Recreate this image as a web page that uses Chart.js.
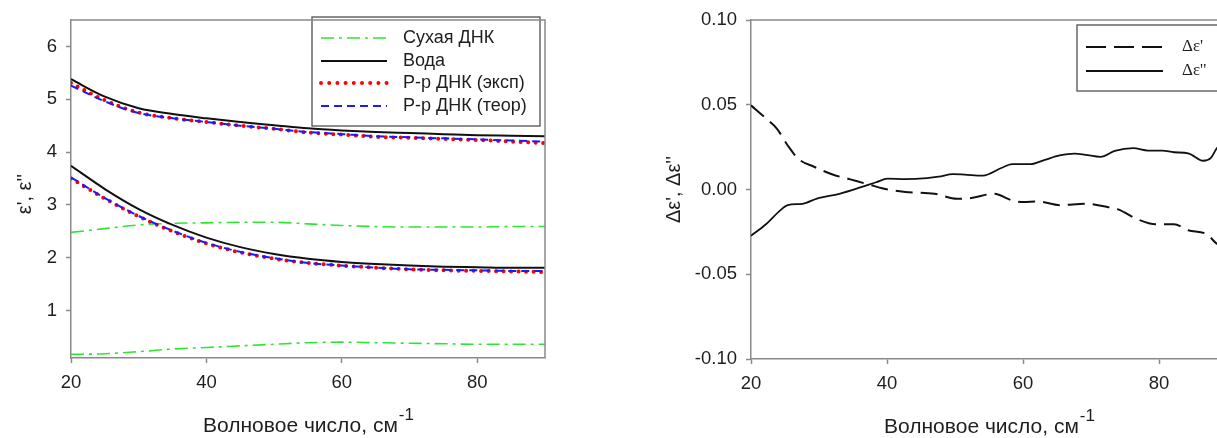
<!DOCTYPE html>
<html>
<head>
<meta charset="utf-8">
<script src="https://cdn.jsdelivr.net/npm/chart.js@4.4.1/dist/chart.umd.min.js"></script>
<style>
  html, body { margin: 0; padding: 0; background: #fff; overflow: hidden; width: 1217px; height: 438px; }
  #c1 { position: absolute; left: 0; top: 0; }
  #c2 { position: absolute; left: 620px; top: 0; }
</style>
</head>
<body>
<canvas id="c1" width="560" height="438"></canvas>
<canvas id="c2" width="620" height="438"></canvas>
<script>
// ---- Left panel: permittivity spectra (wavenumber, cm^-1) ----
const waveNumbers = [20, 25, 30, 35, 40, 45, 50, 55, 60, 65, 70, 75, 80, 85, 90];

const dryDnaRe  = [2.48, 2.55, 2.62, 2.65, 2.66, 2.67, 2.67, 2.64, 2.61, 2.59, 2.58, 2.58, 2.58, 2.59, 2.59];
const dryDnaIm  = [0.17, 0.18, 0.22, 0.27, 0.30, 0.33, 0.36, 0.39, 0.40, 0.39, 0.38, 0.37, 0.36, 0.36, 0.36];
const waterRe   = [5.38, 5.05, 4.83, 4.72, 4.64, 4.57, 4.51, 4.45, 4.41, 4.38, 4.36, 4.34, 4.32, 4.31, 4.30];
const waterIm   = [3.74, 3.30, 2.92, 2.62, 2.38, 2.20, 2.07, 1.98, 1.92, 1.88, 1.85, 1.83, 1.82, 1.81, 1.81];
const solExpRe  = [5.31, 4.98, 4.75, 4.64, 4.57, 4.50, 4.44, 4.37, 4.33, 4.29, 4.27, 4.25, 4.23, 4.20, 4.17];
const solExpIm  = [3.50, 3.12, 2.78, 2.50, 2.27, 2.10, 1.98, 1.90, 1.85, 1.81, 1.78, 1.76, 1.75, 1.74, 1.73];
const solTheoRe = [5.26, 4.96, 4.74, 4.64, 4.57, 4.50, 4.44, 4.38, 4.34, 4.30, 4.28, 4.26, 4.24, 4.22, 4.20];
const solTheoIm = [3.52, 3.13, 2.79, 2.51, 2.28, 2.11, 1.99, 1.90, 1.85, 1.81, 1.78, 1.77, 1.76, 1.75, 1.75];

const leftXTicks = [20, 40, 60, 80];
const leftYTicks = [1, 2, 3, 4, 5, 6];

// ---- Right panel: differences between experiment and theory ----
const dRealX = [20, 22.2, 23.8, 25.4, 27, 29.2, 31.9, 34.6, 37.3, 40.1, 42.7, 47, 50.3, 52.4, 55.7, 58.4, 60, 62.2, 65.4, 69.2, 72.4, 74, 76.8, 79.5, 82.2, 84.3, 87, 88.5, 90];
const dRealY = [0.0497, 0.042, 0.036, 0.026, 0.018, 0.0136, 0.009, 0.006, 0.003, 0.000, -0.0014, -0.0025, -0.0055, -0.005, -0.0025, -0.0064, -0.0074, -0.007, -0.0092, -0.0084, -0.0103, -0.0117, -0.0175, -0.0205, -0.0205, -0.024, -0.0263, -0.032, -0.035];
const dImagX = [20, 22.2, 24.3, 25.4, 27.6, 29.7, 33, 36.2, 38.4, 40.1, 42.7, 45.9, 47.6, 49.7, 51.4, 54.1, 56.8, 58.4, 61.1, 63.2, 65.4, 67.6, 69.2, 71.4, 73.5, 76.2, 78.4, 80.5, 82.2, 84.3, 86.5, 87.6, 88.5, 90];
const dImagY = [-0.0273, -0.0205, -0.0123, -0.0092, -0.0084, -0.0053, -0.0025, 0.0014, 0.0043, 0.0064, 0.0062, 0.0068, 0.0076, 0.0091, 0.0088, 0.0082, 0.0127, 0.0150, 0.0150, 0.0175, 0.0201, 0.0212, 0.0205, 0.0193, 0.0228, 0.0244, 0.0230, 0.0230, 0.0220, 0.0214, 0.0170, 0.0185, 0.0244, 0.030];

const rightXTicks = [20, 40, 60, 80];
const rightYTicks = [-0.10, -0.05, 0.00, 0.05, 0.10];

// ---- styling ----
const SANS = '"Liberation Sans", Arial, sans-serif';
const SERIF = '"Liberation Serif", "Times New Roman", serif';
const AXIS = '#8a8a8a';
const TEXT = '#1e1e1e';
const GREEN = '#2ee62e';

const zip = (xs, ys) => xs.map((x, i) => ({ x, y: ys[i] }));

// Frame lines on the top and right of the plot area
const framePlugin = {
  id: 'frame',
  afterDraw(chart) {
    const { ctx, chartArea: a } = chart;
    ctx.save();
    ctx.strokeStyle = AXIS;
    ctx.lineWidth = 1.5;
    ctx.beginPath();
    ctx.moveTo(a.left, a.top);
    ctx.lineTo(a.right, a.top);
    ctx.lineTo(a.right, a.bottom);
    ctx.stroke();
    ctx.restore();
  }
};

// Axis titles: x title with a raised "-1", rotated y title
const titlePlugin = {
  id: 'axisTitles',
  afterDraw(chart, args, o) {
    const { ctx, chartArea: a } = chart;
    ctx.save();
    ctx.fillStyle = TEXT;
    ctx.textBaseline = 'middle';
    const main = o.xText, sup = o.xSup;
    ctx.font = `21px ${SANS}`;
    const wMain = ctx.measureText(main).width;
    ctx.font = `17px ${SANS}`;
    const wSup = ctx.measureText(sup).width;
    const cx = (a.left + a.right) / 2;
    const x0 = cx - (wMain + wSup) / 2;
    const y0 = a.bottom + 68;
    ctx.textAlign = 'left';
    ctx.font = `21px ${SANS}`;
    ctx.fillText(main, x0, y0);
    ctx.font = `17px ${SANS}`;
    ctx.fillText(sup, x0 + wMain + 1, y0 - 11);
    ctx.translate(a.left - o.yOffset, (a.top + a.bottom) / 2 + o.yShift);
    ctx.rotate(-Math.PI / 2);
    ctx.textAlign = 'center';
    ctx.font = `20px ${SANS}`;
    ctx.fillText(o.yText, 0, 0);
    ctx.restore();
  }
};

// Boxed legend drawn from the datasets' own line styles (only named datasets)
const boxLegendPlugin = {
  id: 'boxLegend',
  afterDatasetsDraw(chart, args, o) {
    const { ctx } = chart;
    ctx.save();
    ctx.strokeStyle = o.borderColor;
    ctx.lineWidth = 1.3;
    ctx.strokeRect(o.left, o.top, o.right - o.left, o.bottom - o.top);
    chart.data.datasets.filter(ds => ds.label).forEach((ds, i) => {
      const y = o.rows[i];
      ctx.save();
      ctx.strokeStyle = ds.borderColor;
      ctx.lineWidth = ds.borderWidth;
      ctx.lineCap = ds.borderCapStyle || 'butt';
      ctx.setLineDash(ds.legendDash || ds.borderDash || []);
      ctx.beginPath();
      ctx.moveTo(o.lineX0, y);
      ctx.lineTo(o.lineX1, y);
      ctx.stroke();
      ctx.restore();
      ctx.fillStyle = TEXT;
      ctx.font = o.font;
      ctx.textAlign = 'left';
      ctx.textBaseline = 'middle';
      ctx.fillText(ds.label, o.textX, y);
    });
    ctx.restore();
  }
};

function axes(xTicks, yTicks, yMin, yMax, yWidth, xHeight, yFmt) {
  const common = {
    type: 'linear',
    border: { color: AXIS, width: 1.5 },
    grid: { drawOnChartArea: false, tickLength: 5, color: AXIS, tickWidth: 1.5 },
  };
  return {
    x: {
      ...common, min: 20, max: 90,
      afterBuildTicks: s => { s.ticks = xTicks.map(v => ({ value: v })); },
      afterFit: s => { s.height = xHeight; },
      ticks: { font: { family: SANS, size: 18.5 }, color: TEXT, padding: 9, maxRotation: 0, autoSkip: false }
    },
    y: {
      ...common, min: yMin, max: yMax,
      afterBuildTicks: s => { s.ticks = yTicks.map(v => ({ value: v })); },
      afterFit: s => { s.width = yWidth; },
      ticks: { font: { family: SANS, size: 18.5 }, color: TEXT, padding: 9, callback: yFmt }
    }
  };
}

const baseOpts = {
  responsive: false,
  animation: false,
  devicePixelRatio: 1,
  events: [],
  elements: { point: { radius: 0 }, line: { cubicInterpolationMode: 'monotone' } },
};

// ---- left chart ----
const leftStyles = [
  { label: 'Сухая ДНК', borderColor: GREEN, borderWidth: 1.6, borderDash: [13, 5, 3, 5], order: 3 },
  { label: 'Вода', borderColor: '#111111', borderWidth: 2, order: 2 },
  { label: 'Р-р ДНК (эксп)', borderColor: '#ff0000', borderWidth: 4, borderDash: [0, 7.5], borderCapStyle: 'round', legendDash: [0, 8.2], order: 1 },
  { label: 'Р-р ДНК (теор)', borderColor: '#1a1aff', borderWidth: 2, borderDash: [8, 5], order: 0 },
];
const leftPairs = [
  [dryDnaRe, dryDnaIm], [waterRe, waterIm], [solExpRe, solExpIm], [solTheoRe, solTheoIm]
];
// each legend entry covers both the real (named) and the imaginary curve
const leftData = [];
leftStyles.forEach((s, i) => leftData.push({ ...s, data: zip(waveNumbers, leftPairs[i][0]) }));
leftStyles.forEach((s, i) => leftData.push({ ...s, label: '', data: zip(waveNumbers, leftPairs[i][1]) }));

new Chart(document.getElementById('c1'), {
  type: 'line',
  data: { datasets: leftData },
  options: {
    ...baseOpts,
    layout: { padding: { top: 17, right: 15, left: 0, bottom: 0 } },
    scales: axes(leftXTicks, leftYTicks, 0.1, 6.5, 71, 80, v => String(v)),
    plugins: {
      legend: { display: false }, tooltip: { enabled: false },
      axisTitles: { xText: 'Волновое число, см', xSup: '-1', yText: "ε', ε''", yOffset: 46, yShift: 5 },
      boxLegend: {
        left: 312, top: 17, right: 540, bottom: 126, borderColor: '#505050',
        lineX0: 321, lineX1: 387, textX: 403, rows: [38, 61, 83, 106],
        font: `18px ${SANS}`
      }
    }
  },
  plugins: [framePlugin, titlePlugin, boxLegendPlugin]
});

// ---- right chart ----
new Chart(document.getElementById('c2'), {
  type: 'line',
  data: {
    datasets: [
      { label: "Δε'", data: zip(dRealX, dRealY), borderColor: '#111111', borderWidth: 2, borderDash: [17, 8], legendDash: [20, 8] },
      { label: "Δε''", data: zip(dImagX, dImagY), borderColor: '#111111', borderWidth: 1.8 },
    ]
  },
  options: {
    ...baseOpts,
    layout: { padding: { top: 17, right: 13, left: 0, bottom: 0 } },
    scales: axes(rightXTicks, rightYTicks, -0.10, 0.10, 131, 79, v => v.toFixed(2)),
    plugins: {
      legend: { display: false }, tooltip: { enabled: false },
      axisTitles: { xText: 'Волновое число, см', xSup: '-1', yText: "Δε', Δε''", yOffset: 77, yShift: 0 },
      boxLegend: {
        left: 457, top: 25, right: 606, bottom: 91, borderColor: '#505050',
        lineX0: 466, lineX1: 543, textX: 562, rows: [47, 71],
        font: `17px ${SERIF}`
      }
    }
  },
  plugins: [framePlugin, titlePlugin, boxLegendPlugin]
});
</script>
</body>
</html>
